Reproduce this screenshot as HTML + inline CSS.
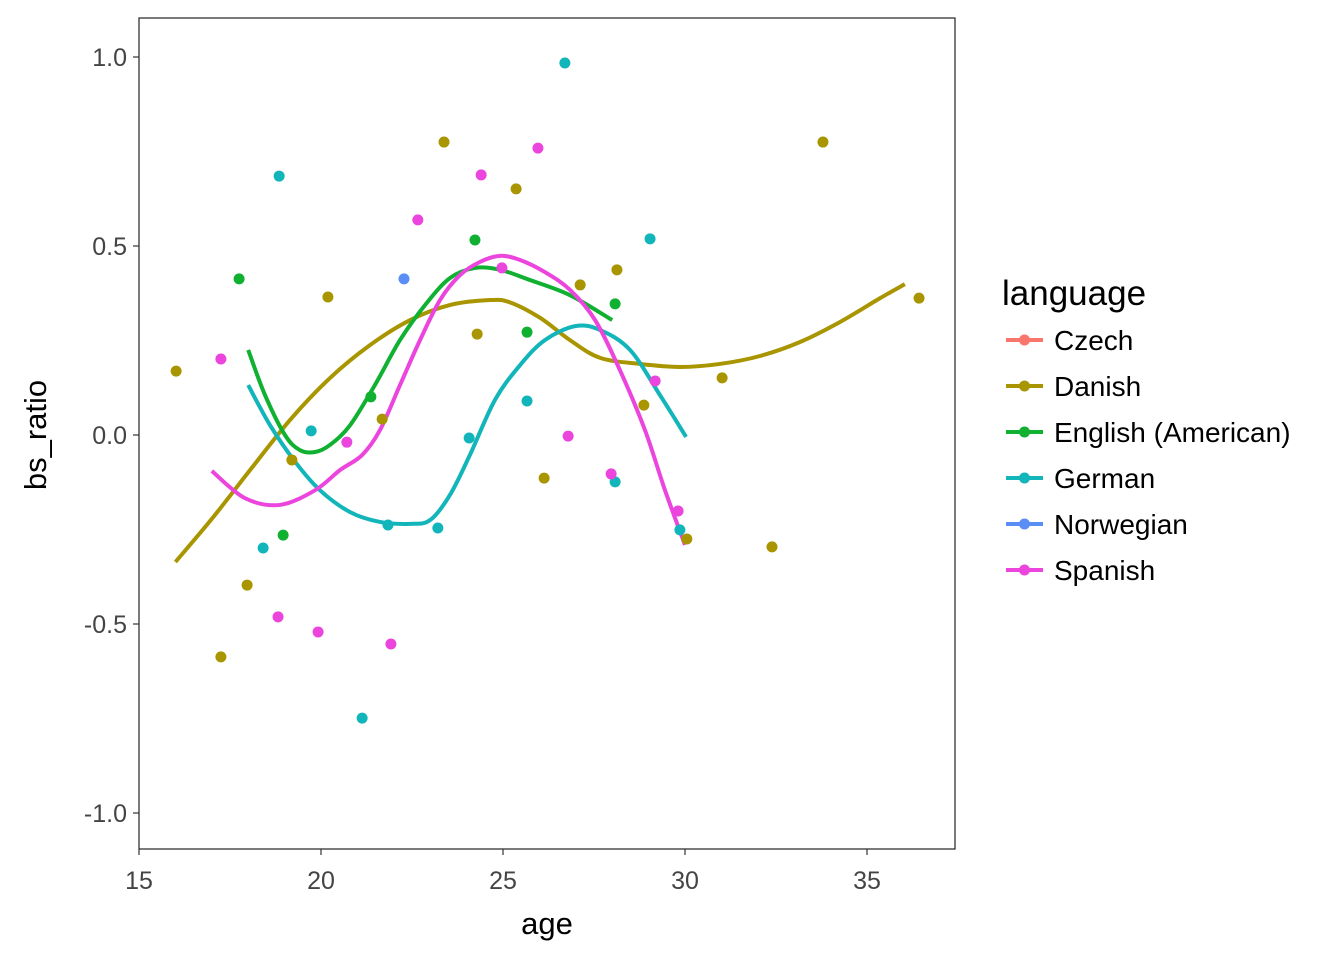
<!DOCTYPE html>
<html><head><meta charset="utf-8"><style>
body{margin:0;background:#fff;}
svg text{font-family:"Liberation Sans",sans-serif;}
</style></head><body>
<svg id="chart" width="1344" height="960" xmlns="http://www.w3.org/2000/svg">
<rect x="139" y="18" width="816" height="831" fill="#fff" stroke="#222" stroke-width="1.2"/>
<g id="axes"></g>
<g id="lines"></g>
<g id="points"></g>
<text x="547" y="934" font-size="31" text-anchor="middle" fill="#000">age</text>
<text transform="translate(46,435) rotate(-90)" font-size="31" text-anchor="middle" fill="#000">bs_ratio</text>
<g id="legend"></g>
</svg>
<script>
const xTicks=[15,20,25,30,35];
const yTicks=[1.0,0.5,0.0,-0.5,-1.0];
const yTickLabels=["1.0","0.5","0.0","-0.5","-1.0"];
const languages=["Czech","Danish","English (American)","German","Norwegian","Spanish"];
const colors=["#F8766D","#A89500","#10B030","#12B5BA","#5A8EF5","#EB45DD"];
const danishX=[16.02,17.25,17.97,19.2,20.19,21.68,23.38,24.29,25.36,26.13,27.12,28.13,28.87,30.05,31.02,32.39,33.79,36.43];
const danishY=[0.169,-0.587,-0.397,-0.066,0.365,0.042,0.775,0.267,0.651,-0.114,0.397,0.437,0.079,-0.275,0.151,-0.296,0.775,0.362];
const englishX=[17.75,18.96,21.37,24.23,25.66,28.08];
const englishY=[0.413,-0.265,0.101,0.516,0.272,0.347];
const germanX=[18.85,18.41,19.73,21.13,21.84,23.21,24.07,25.66,26.70,28.08,29.04,29.86];
const germanY=[0.685,-0.299,0.011,-0.749,-0.238,-0.246,-0.008,0.090,0.984,-0.124,0.519,-0.251];
const norwegianX=[22.28];
const norwegianY=[0.413];
const spanishX=[17.25,18.82,19.92,20.71,21.92,22.66,24.40,24.97,25.96,26.79,27.97,29.18,29.81];
const spanishY=[0.201,-0.481,-0.521,-0.019,-0.553,0.569,0.688,0.442,0.759,-0.003,-0.103,0.143,-0.201];
const danishSmoothX=[16.0,17.0,18.05,19.15,20.25,21.35,22.45,23.55,24.65,25.19,26.02,26.84,27.67,28.77,29.86,30.96,32.06,33.16,34.26,35.36,36.04];
const danishSmoothY=[-0.336,-0.222,-0.093,0.040,0.151,0.238,0.304,0.344,0.357,0.351,0.310,0.251,0.204,0.188,0.180,0.188,0.209,0.246,0.299,0.362,0.399];
const englishSmoothX=[18.0,18.46,19.01,19.42,19.84,20.25,20.80,21.48,22.17,22.86,23.54,24.23,24.92,25.74,26.84,28.0];
const englishSmoothY=[0.225,0.106,0.0,-0.040,-0.045,-0.026,0.026,0.132,0.251,0.344,0.415,0.442,0.437,0.410,0.370,0.304];
const germanSmoothX=[18.0,18.6,19.29,19.97,20.8,21.62,22.45,23.0,23.54,24.09,24.78,25.47,26.15,26.98,27.66,28.49,29.31,30.03];
const germanSmoothY=[0.132,0.026,-0.071,-0.146,-0.204,-0.230,-0.235,-0.225,-0.159,-0.053,0.093,0.185,0.251,0.288,0.278,0.225,0.106,-0.005];
const spanishSmoothX=[17.0,17.91,18.87,19.84,20.52,21.13,21.62,22.17,22.72,23.27,23.82,24.37,24.92,25.47,26.15,26.84,27.53,28.21,28.90,29.45,30.0];
const spanishSmoothY=[-0.095,-0.167,-0.185,-0.146,-0.093,-0.053,0.013,0.132,0.251,0.357,0.423,0.458,0.474,0.463,0.431,0.384,0.304,0.172,0.013,-0.146,-0.291];

const NS="http://www.w3.org/2000/svg";
const sx=v=>139+(v-15)*36.4;
const sy=v=>435-v*378;
function mk(tag,parent,attrs){const e=document.createElementNS(NS,tag);for(const k in attrs)e.setAttribute(k,attrs[k]);parent.appendChild(e);return e;}
const axes=document.getElementById('axes');
xTicks.forEach(t=>{
  const l=mk('line',axes,{x1:sx(t),x2:sx(t),y1:849,y2:855,stroke:'#333','stroke-width':1.2});
  
  
  const tx=mk('text',axes,{x:sx(t),y:889,'font-size':25,'text-anchor':'middle',fill:'#444'});
  tx.textContent=t;
  
  
});
yTicks.forEach((t,i)=>{
  const l=mk('line',axes,{x1:133,x2:139,y1:sy(t),y2:sy(t),stroke:'#333','stroke-width':1.2});
  
  
  const tx=mk('text',axes,{x:127,y:sy(t)+9,'font-size':25,'text-anchor':'end',fill:'#444'});
  tx.textContent=yTickLabels[i];
  
  
});
function smoothPath(xs,ys){
  const p=xs.map((x,i)=>[sx(x),sy(ys[i])]);
  let d='M'+p[0][0]+','+p[0][1];
  for(let i=0;i<p.length-1;i++){
    const p0=p[i-1]||p[i],p1=p[i],p2=p[i+1],p3=p[i+2]||p2;
    const c1=[p1[0]+(p2[0]-p0[0])/6,p1[1]+(p2[1]-p0[1])/6];
    const c2=[p2[0]-(p3[0]-p1[0])/6,p2[1]-(p3[1]-p1[1])/6];
    d+=' C'+c1+' '+c2+' '+p2;
  }
  return d;
}
const lines=document.getElementById('lines');
const pts=document.getElementById('points');
const smooths=[[danishSmoothX,danishSmoothY,1,'danish'],[englishSmoothX,englishSmoothY,2,'english'],[germanSmoothX,germanSmoothY,3,'german'],[spanishSmoothX,spanishSmoothY,5,'spanish']];
smooths.forEach(s=>{
  const p=mk('path',lines,{d:smoothPath(s[0],s[1]),fill:'none',stroke:colors[s[2]],'stroke-width':4});
  
  
});
const series=[[danishX,danishY,1,'danish'],[englishX,englishY,2,'english'],[germanX,germanY,3,'german'],[norwegianX,norwegianY,4,'norwegian'],[spanishX,spanishY,5,'spanish']];
series.forEach(s=>{
  s[0].forEach((x,i)=>{
    const c=mk('circle',pts,{cx:sx(x),cy:sy(s[1][i]),r:5.5,fill:colors[s[2]]});
    
    
  });
});
const lg=document.getElementById('legend');
const lt=mk('text',lg,{x:1002,y:305,'font-size':35,fill:'#000'});
lt.textContent='language';


languages.forEach((name,i)=>{
  const y=340+i*46;
  const g=mk('g',lg,{});
  
  
  mk('line',g,{x1:1006,x2:1043,y1:y,y2:y,stroke:colors[i],'stroke-width':4});
  mk('circle',g,{cx:1024.5,cy:y,r:5.5,fill:colors[i]});
  const t=mk('text',g,{x:1054,y:y+10,'font-size':28,fill:'#000'});
  t.textContent=name;
});
</script>
</body></html>
